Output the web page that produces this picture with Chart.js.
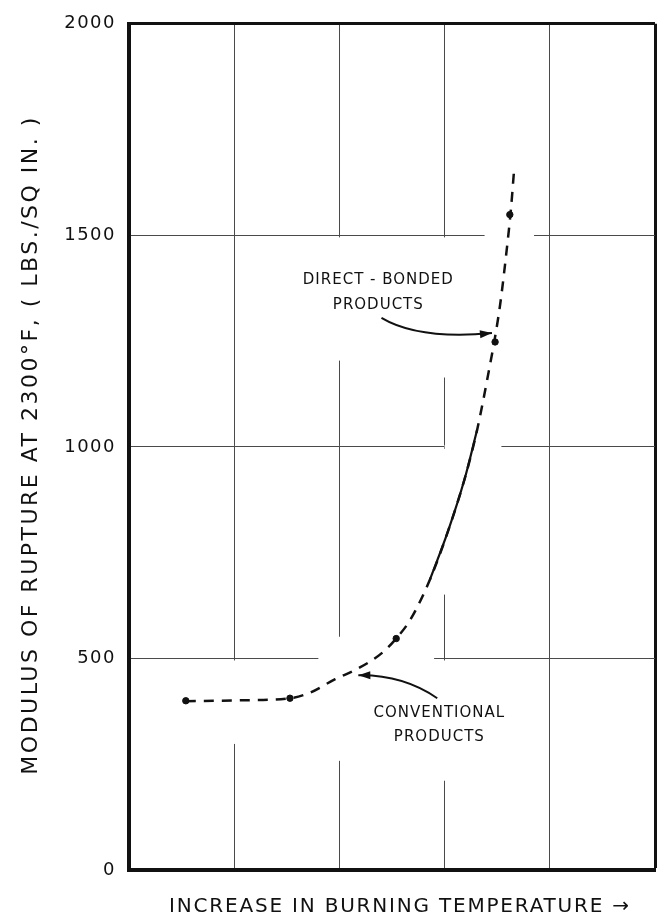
<!DOCTYPE html>
<html>
<head>
<meta charset="utf-8">
<script src="https://cdn.jsdelivr.net/npm/chart.js@4/dist/chart.umd.min.js"></script>
<style>
  body { margin: 0; background: #fff; }
  #wrap { width: 660px; height: 921px; }
</style>
</head>
<body>
<div id="wrap"><canvas id="chartmor"></canvas></div>
<script>
// fitted curve (x = grid units of burning temperature)
var curveX = [0.54, 1.05, 1.53, 1.71, 1.96, 2.16, 2.40, 2.54, 2.68, 2.86, 3.03, 3.19, 3.31, 3.43, 3.48, 3.53, 3.59, 3.63, 3.66];
var curveY = [399, 401, 406, 418, 451, 474, 512, 547, 594, 686, 799, 924, 1041, 1192, 1260, 1340, 1465, 1560, 1653];

// measured points
var pointX = [0.54, 1.53, 2.54, 3.48, 3.62];
var pointY = [400, 406, 547, 1248, 1549];

var yTicks = [0, 500, 1000, 1500, 2000];
var xGridCount = 5;

var yTitle = 'MODULUS OF RUPTURE AT 2300°F, ( LBS./SQ IN. )';
var xTitle = 'INCREASE IN BURNING TEMPERATURE \u2192';

// part of the curve that is drawn solid
var solidFrom = 2.85;
var solidTo = 3.32;

function toPoints(xs, ys, lo, hi) {
    var out = [];
    for (var i = 0; i < xs.length; i++) {
        if (lo != null && (xs[i] < lo || xs[i] > hi)) continue;
        out.push({ x: xs[i], y: ys[i] });
    }
    return out;
}

// breaks in the grid round the lettering and the curve
var gridGaps = [
    { axis: 'x', at: 1, from: 500, to: 298 },
    { axis: 'x', at: 2, from: 1500, to: 1204 },
    { axis: 'x', at: 2, from: 556, to: 258 },
    { axis: 'x', at: 3, from: 1500, to: 1164 },
    { axis: 'x', at: 3, from: 1000, to: 651 },
    { axis: 'x', at: 3, from: 500, to: 211 },
    { axis: 'y', at: 1500, from: 3.38, to: 3.85 },
    { axis: 'y', at: 1000, from: 3.0, to: 3.54 },
    { axis: 'y', at: 500, from: 1.80, to: 2.90 }
];

var gapPlugin = {
    id: 'gaps',
    beforeDraw: function (chart) {
        // slightly spaced lettering for the tick labels
        chart.ctx.letterSpacing = '1.5px';
    },
    beforeDatasetsDraw: function (chart) {
        var ctx = chart.ctx, xs = chart.scales.x, ys = chart.scales.y;
        ctx.save();
        ctx.fillStyle = '#fff';
        gridGaps.forEach(function (g) {
            if (g.axis == 'x') {
                var px = xs.getPixelForValue(g.at);
                var a = ys.getPixelForValue(g.from), b = ys.getPixelForValue(g.to);
                ctx.fillRect(px - 2, Math.min(a, b) + 2, 4, Math.abs(b - a) - 2);
            } else {
                var py = ys.getPixelForValue(g.at);
                var c = xs.getPixelForValue(g.from), d = xs.getPixelForValue(g.to);
                ctx.fillRect(c, py - 2, d - c, 4);
            }
        });
        ctx.restore();
    }
};

// labels with their curved arrows
var notes = [
    { lines: ['DIRECT - BONDED', 'PRODUCTS'], x: 2.37, y: 1394, lineStep: 59,
      arrow: { from: [2.40, 1305], ctrl: [2.75, 1253], to: [3.45, 1269] } },
    { lines: ['CONVENTIONAL', 'PRODUCTS'], x: 2.95, y: 371, lineStep: 57,
      arrow: { from: [2.93, 406], ctrl: [2.60, 462], to: [2.18, 460] } }
];

var notePlugin = {
    id: 'notes',
    afterDatasetsDraw: function (chart) {
        var ctx = chart.ctx, xs = chart.scales.x, ys = chart.scales.y;
        ctx.save();
        ctx.fillStyle = '#111';
        ctx.strokeStyle = '#111';
        ctx.font = '15px "DejaVu Sans"';
        ctx.letterSpacing = '1px';
        ctx.textAlign = 'center';
        ctx.textBaseline = 'middle';
        notes.forEach(function (n) {
            for (var i = 0; i < n.lines.length; i++) {
                ctx.fillText(n.lines[i], xs.getPixelForValue(n.x), ys.getPixelForValue(n.y - i * n.lineStep));
            }
            var a = n.arrow;
            var x0 = xs.getPixelForValue(a.from[0]), y0 = ys.getPixelForValue(a.from[1]);
            var cx = xs.getPixelForValue(a.ctrl[0]), cy = ys.getPixelForValue(a.ctrl[1]);
            var x1 = xs.getPixelForValue(a.to[0]), y1 = ys.getPixelForValue(a.to[1]);
            ctx.lineWidth = 2;
            ctx.beginPath();
            ctx.moveTo(x0, y0);
            ctx.quadraticCurveTo(cx, cy, x1, y1);
            ctx.stroke();
            // arrow head
            var ang = Math.atan2(y1 - cy, x1 - cx);
            ctx.beginPath();
            ctx.moveTo(x1, y1);
            ctx.lineTo(x1 - 12 * Math.cos(ang) + 4 * Math.sin(ang), y1 - 12 * Math.sin(ang) - 4 * Math.cos(ang));
            ctx.lineTo(x1 - 12 * Math.cos(ang) - 4 * Math.sin(ang), y1 - 12 * Math.sin(ang) + 4 * Math.cos(ang));
            ctx.closePath();
            ctx.fill();
        });
        ctx.restore();
    }
};

// axis titles, spaced out like the hand lettering
var titlePlugin = {
    id: 'axisTitles',
    afterDraw: function (chart) {
        var ctx = chart.ctx, area = chart.chartArea;
        ctx.save();
        ctx.fillStyle = '#111';
        ctx.textAlign = 'center';
        ctx.textBaseline = 'middle';

        ctx.font = '22px "DejaVu Sans"';
        ctx.letterSpacing = '2.5px';
        ctx.translate(31, (area.top + area.bottom) / 2 - 2);
        ctx.rotate(-Math.PI / 2);
        ctx.fillText(yTitle, 0, 0);
        ctx.setTransform(1, 0, 0, 1, 0, 0);

        ctx.font = '20px "DejaVu Sans"';
        ctx.letterSpacing = '1.8px';
        ctx.fillText(xTitle, (area.left + area.right) / 2 + 8, 907);
        ctx.restore();
    }
};

var chartmor;

window.onload = function () {
    var chartArea = document.getElementById('chartmor').getContext('2d');

    chartmor = new Chart(chartArea, {
        type: 'scatter',
        data: {
            datasets: [{
                label: 'curve',
                data: toPoints(curveX, curveY),
                showLine: true,
                borderColor: '#111',
                borderWidth: 2.5,
                borderDash: [10, 8],
                pointRadius: 0,
                cubicInterpolationMode: 'monotone',
                order: 3
            }, {
                label: 'curve solid part',
                data: toPoints(curveX, curveY, solidFrom, solidTo),
                showLine: true,
                borderColor: '#111',
                borderWidth: 2.2,
                pointRadius: 0,
                cubicInterpolationMode: 'monotone',
                order: 2
            }, {
                label: 'points',
                data: toPoints(pointX, pointY),
                pointRadius: 3.2,
                backgroundColor: '#111',
                borderColor: '#111',
                order: 1
            }]
        },
        options: {
            responsive: true,
            maintainAspectRatio: false,
            animation: false,
            layout: { padding: { top: 17, right: 1, left: 0, bottom: 0 } },
            plugins: {
                legend: { display: false },
                tooltip: { enabled: false }
            },
            scales: {
                x: {
                    type: 'linear',
                    min: 0,
                    max: xGridCount,
                    afterFit: function (s) { s.height = 51; },
                    ticks: { display: false, stepSize: 1 },
                    grid: {
                        drawTicks: false,
                        color: function (c) { return c.tick.value == xGridCount ? '#111' : '#4a4a4a'; },
                        lineWidth: function (c) { return c.tick.value == xGridCount ? 3 : 1; }
                    },
                    border: { color: '#111', width: 4 }
                },
                y: {
                    type: 'linear',
                    min: yTicks[0],
                    max: yTicks[yTicks.length - 1],
                    afterFit: function (s) { s.width = 129; },
                    afterBuildTicks: function (s) {
                        s.ticks = yTicks.map(function (v) { return { value: v }; });
                    },
                    ticks: {
                        padding: 13,
                        color: '#111',
                        font: { family: 'DejaVu Sans', size: 18 },
                        callback: function (v) { return String(v); }
                    },
                    grid: {
                        drawTicks: false,
                        color: function (c) { return c.tick.value == 2000 ? '#111' : '#4a4a4a'; },
                        lineWidth: function (c) { return c.tick.value == 2000 ? 3 : 1; }
                    },
                    border: { color: '#111', width: 4 }
                }
            }
        },
        plugins: [gapPlugin, notePlugin, titlePlugin]
    });
};
</script>
</body>
</html>
